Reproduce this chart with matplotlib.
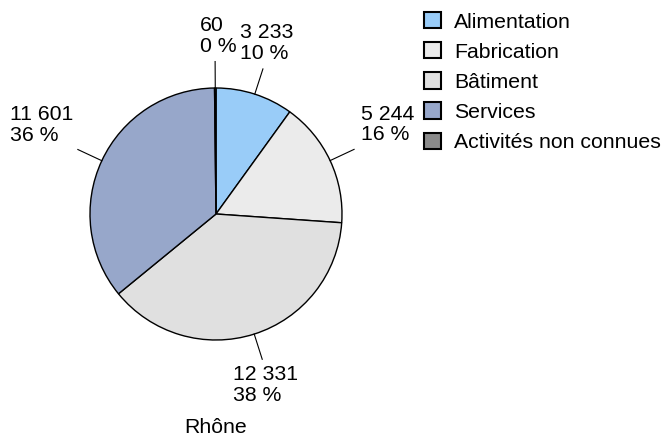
import numpy as np
import matplotlib
matplotlib.use('Agg')
import matplotlib.pyplot as plt

plt.rcParams['font.family'] = ['Liberation Sans', 'DejaVu Sans']

# Données
categories = ['Alimentation', 'Fabrication', 'Bâtiment', 'Services', 'Activités non connues']
valeurs = [3233, 5244, 12331, 11601, 60]
pourcentages = ['10 %', '16 %', '38 %', '36 %', '0 %']
etiquettes = ['3 233', '5 244', '12 331', '11 601', '60']
couleurs = ['#99CCF8', '#EBEBEB', '#E0E0E0', '#97A7CA', '#8A8A8A']
titre = 'Rhône'

W, H = 665, 436
FS = 15.3
fig = plt.figure(figsize=(W / 100, H / 100), dpi=100)

# centre du camembert ~ (216, 214) px, rayon ~126 px
cx, cy, r = 216, 214, 126
ax = fig.add_axes([(cx - r) / W, (H - cy - r) / H, 2 * r / W, 2 * r / H])

wedges, _ = ax.pie(valeurs, colors=couleurs, startangle=90, counterclock=False,
                   radius=1, wedgeprops=dict(edgecolor='black', linewidth=1.0))
ax.set_xlim(-1, 1)
ax.set_ylim(-1, 1)
ax.set_aspect('equal')
ax.axis('off')

# décalages du texte par rapport au bout du trait (pixels)
decalages = [(-23, 6, 'left', 'bottom'),
             (7, 5, 'left', 'bottom'),
             (-29, -6, 'left', 'top'),
             (-5, 5, 'right', 'bottom'),
             (-15, 6, 'left', 'bottom')]

for w, lab, pct, (dx, dy, ha, va) in zip(wedges, etiquettes, pourcentages, decalages):
    ang = np.deg2rad((w.theta1 + w.theta2) / 2)
    x0, y0 = np.cos(ang), np.sin(ang)
    x1, y1 = 1.21 * x0, 1.21 * y0
    ax.plot([x0, x1], [y0, y1], color='black', lw=0.8, clip_on=False)
    ax.annotate(lab + '\n' + pct, xy=(x1, y1), xytext=(dx, dy),
                textcoords='offset pixels', ha=ha, va=va,
                multialignment='left', fontsize=FS, linespacing=1.1,
                annotation_clip=False)

fig.text(cx / W, (H - 433) / H, titre, ha='center', va='baseline', fontsize=FS)

leg = fig.legend(wedges, categories, loc='upper left',
                 bbox_to_anchor=(424 / W, 1 - 12 / H), frameon=False,
                 fontsize=FS, borderpad=0, borderaxespad=0,
                 handlelength=0.8, handleheight=0.8, handletextpad=0.6,
                 labelspacing=0.5)
for p in leg.get_patches():
    p.set_edgecolor('black')
    p.set_linewidth(1.5)

fig.savefig('out.png', dpi=100)
